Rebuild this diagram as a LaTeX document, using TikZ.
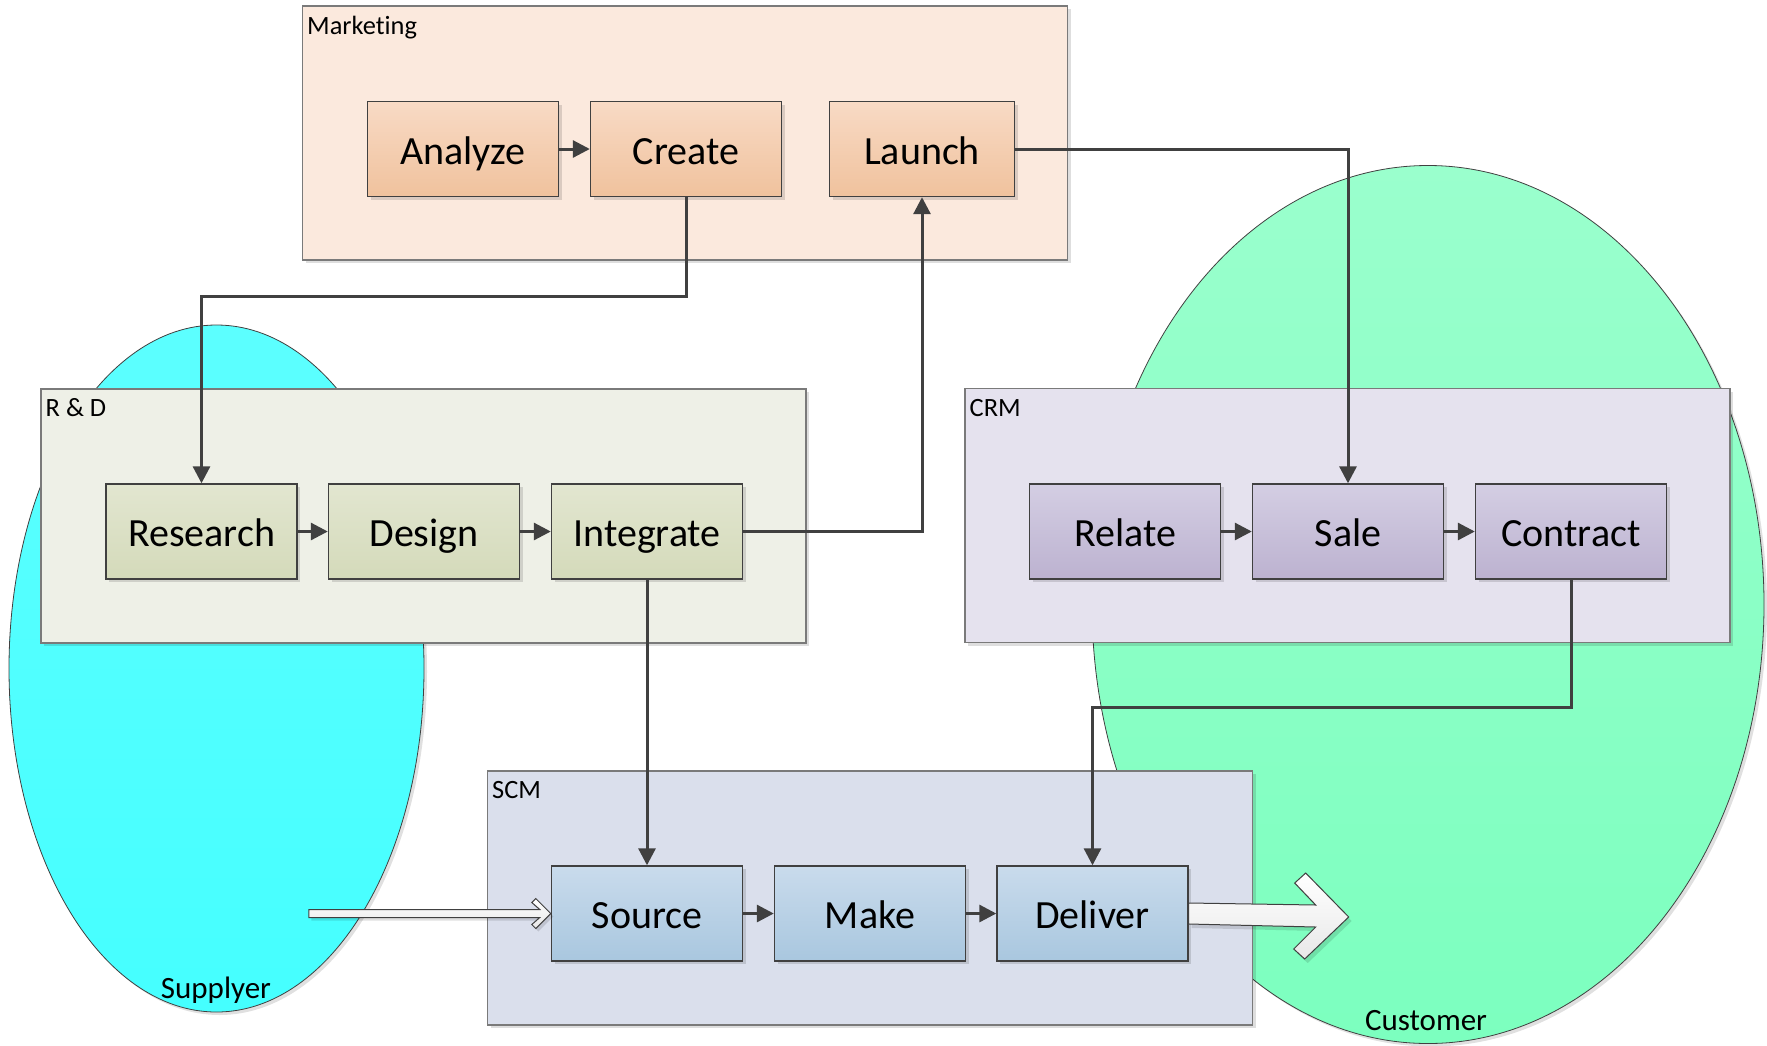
\documentclass[tikz,border=0pt]{standalone}
\usepackage{fontspec}
\setmainfont[Ligatures=NoCommon]{Carlito}
\usetikzlibrary{arrows.meta,calc,shapes.geometric,shadows}

% palette
\definecolor{cline}{HTML}{404040}
\definecolor{pborder}{HTML}{7A7A7A}
\definecolor{mktpanel}{HTML}{FBE9DD}
\definecolor{mkttop}{HTML}{F8DAC5}
\definecolor{mktbot}{HTML}{F0C29D}
\definecolor{rdpanel}{HTML}{EEF0E7}
\definecolor{rdtop}{HTML}{E2E6D0}
\definecolor{rdbot}{HTML}{D4DABA}
\definecolor{crmpanel}{HTML}{E5E2EE}
\definecolor{crmtop}{HTML}{D4CEE3}
\definecolor{crmbot}{HTML}{BCB2D0}
\definecolor{scmpanel}{HTML}{DADFEC}
\definecolor{scmtop}{HTML}{C9DBEC}
\definecolor{scmbot}{HTML}{A9C7DF}
\definecolor{suptop}{HTML}{5CFFFF}
\definecolor{supbot}{HTML}{45FFFF}
\definecolor{custtop}{HTML}{9AFFCD}
\definecolor{custbot}{HTML}{7CFFBF}

% outline of the wide hollow arrow leaving Deliver (relative to its tail)
\newcommand\bigarrowshape{(0,-10.5) -- (127,-8.5) -- (106,-30.5) -- (117,-40.5)
  -- (160,3.5) -- (116,45.5) -- (105,35.5) -- (127,13.5) -- (0,10.5) -- cycle}
% outline of the thin hollow arrow entering Source (relative to its tip)
\newcommand\thinarrowshape{(-242,-4) -- (-11,-4) -- (-19,-11) -- (-15,-15)
  -- (0,0) -- (-15,15) -- (-19,11) -- (-11,4) -- (-242,4) -- cycle}

\tikzset{
  softshadow/.style={drop shadow={shadow xshift=1.6pt,shadow yshift=-1.6pt,
      fill=black,opacity=0.13}},
  panel/.style={rectangle,draw=pborder,line width=0.7pt,inner sep=0pt,
      minimum width=382.5pt,minimum height=127pt,softshadow},
  panellabel/.style={inner sep=0pt,anchor=base west,
      font=\fontsize{13.2}{15}\selectfont},
  stepbox/.style={rectangle,draw=cline,line width=0.7pt,inner sep=0pt,
      minimum width=95.5pt,minimum height=47.5pt,softshadow,
      text height=17pt,text depth=2pt,
      font=\fontsize{20}{24}\selectfont},
  mktbox/.style={stepbox,top color=mkttop,bottom color=mktbot},
  rdbox/.style={stepbox,top color=rdtop,bottom color=rdbot},
  crmbox/.style={stepbox,top color=crmtop,bottom color=crmbot},
  scmbox/.style={stepbox,top color=scmtop,bottom color=scmbot},
  party/.style={ellipse,draw=cline,line width=0.4pt,inner sep=0pt,
      drop shadow={shadow xshift=1.5pt,shadow yshift=-1.5pt,fill=black,opacity=0.12}},
  partylabel/.style={inner sep=0pt,anchor=base,font=\fontsize{15.5}{18}\selectfont},
  flow/.style={draw=cline,line width=1.5pt,
      -{Triangle[length=8.5pt,width=8.5pt]}},
  hollow/.style={draw=cline,line width=0.5pt,top color=white,bottom color=black!9},
  hollowshadow/.style={fill=black,opacity=0.12},
}

\begin{document}
\begin{tikzpicture}[x=0.5pt,y=-0.5pt]
\useasboundingbox (0,0) rectangle (1767,1045);

% outside parties
\node[party,top color=suptop,bottom color=supbot,
      minimum width=207.5pt,minimum height=343.5pt] (supplier) at (216.5,668.5) {};
\node[party,top color=custtop,bottom color=custbot,
      minimum width=336pt,minimum height=439pt] (customer) at (1428,604.5) {};
\node[partylabel] (suplabel) at (216,998) {Supplyer};
\node[partylabel] (custlabel) at (1426,1030) {Customer};

% departments
\node[panel,fill=mktpanel] (mkt) at (685,133) {};
\node[panel,fill=rdpanel] (rd) at (423.5,516) {};
\node[panel,fill=crmpanel] (crm) at (1347.5,515.5) {};
\node[panel,fill=scmpanel] (scm) at (870,898) {};

\node[panellabel] (mktlabel) at ($(mkt.north west)+(5,29)$) {Marketing};
\node[panellabel] (rdlabel) at ($(rd.north west)+(5,28)$) {R \& D};
\node[panellabel] (crmlabel) at ($(crm.north west)+(5,29)$) {CRM};
\node[panellabel] (scmlabel) at ($(scm.north west)+(5,28.5)$) {SCM};

% process steps
\node[mktbox] (analyze) at (463,149) {Analyze};
\node[mktbox] (create) at (686,149) {Create};
\node[mktbox,minimum width=92.5pt] (launch) at (922,149) {Launch};

\node[rdbox] (research) at (201.5,531.5) {Research};
\node[rdbox] (design) at (424,531.5) {Design};
\node[rdbox] (integrate) at (647,531.5) {Integrate};

\node[crmbox] (relate) at (1125,531.5) {Relate};
\node[crmbox] (sale) at (1348,531.5) {Sale};
\node[crmbox] (contract) at (1571,531.5) {Contract};

\node[scmbox] (source) at (647,913.5) {Source};
\node[scmbox] (make) at (870,913.5) {Make};
\node[scmbox] (deliver) at (1092.5,913.5) {Deliver};

% flows inside each department
\draw[flow] (analyze) -- (create);
\draw[flow] (research) -- (design);
\draw[flow] (design) -- (integrate);
\draw[flow] (relate) -- (sale);
\draw[flow] (sale) -- (contract);
\draw[flow] (source) -- (make);
\draw[flow] (make) -- (deliver);

% flows between departments
\draw[flow] (create.south) |- (201.5,296) -- (research.north);
\draw[flow] (integrate.east) -| (launch.south);
\draw[flow] (launch.east) -| (sale.north);
\draw[flow] (integrate.south) -- (source.north);
\draw[flow] (contract.south) |- (1092.5,707) -- (deliver.north);

% goods in from the supplier, goods out to the customer
\coordinate (goodsin) at (source.west);
\coordinate (goodsout) at (deliver.east);
\fill[hollowshadow,shift={($(goodsin)+(2.5,3)$)}] \thinarrowshape;
\draw[hollow,shift={(goodsin)}] \thinarrowshape;
\fill[hollowshadow,shift={($(goodsout)+(3,4)$)}] \bigarrowshape;
\draw[hollow,shift={(goodsout)}] \bigarrowshape;
\end{tikzpicture}
\end{document}
